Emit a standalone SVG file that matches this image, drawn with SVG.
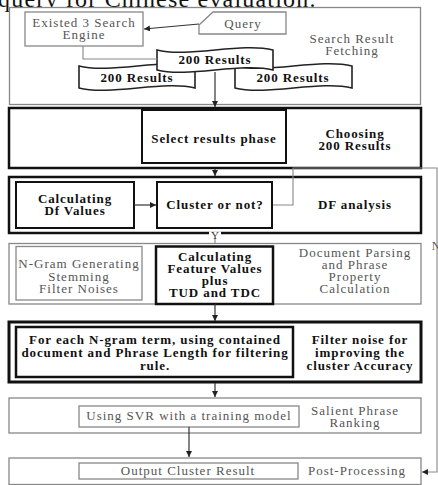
<svg xmlns="http://www.w3.org/2000/svg" width="438" height="485" viewBox="0 0 438 485">
<defs>
<marker id="ah" viewBox="0 0 10 10" refX="10" refY="5" markerWidth="6" markerHeight="6" markerUnits="userSpaceOnUse" orient="auto">
<path d="M0,0 L10,5 L0,10 Z" fill="#222"/>
</marker>
<style>
text{font-family:"Liberation Serif","Times New Roman",serif;text-anchor:middle}
.t{font-size:13px;fill:#555;letter-spacing:1px}
.b{font-size:13px;font-weight:bold;fill:#111;letter-spacing:0.9px}
.thin{fill:#fff;stroke:#888;stroke-width:1.3}
.thick{fill:#fff;stroke:#111;stroke-width:2.5}
.tape{fill:#fff;stroke:#222;stroke-width:1.6}
.c{fill:none;stroke:#333;stroke-width:1.2}
.cg{fill:none;stroke:#888;stroke-width:1.1}
</style>
</defs>
<rect width="438" height="485" fill="#fff"/>
<text x="-2" y="7" style="font-size:24px;fill:#111;text-anchor:start;letter-spacing:1.2px">query for Chinese evaluation.</text>

<g id="stage1">
<rect class="thin" x="9.5" y="7.5" width="411" height="97"/>
<text class="t" x="352" y="43">Search Result</text>
<text class="t" x="352" y="55">Fetching</text>
</g>
<g id="engine">
<rect class="thin" x="25" y="12" width="118" height="34"/>
<text class="t" x="84" y="27">Existed 3 Search</text>
<text class="t" x="84" y="39">Engine</text>
</g>
<g id="query">
<polygon class="thin" points="213,12 286,12 286,34 199,34 199,25"/>
<text class="t" x="243" y="28">Query</text>
</g>
<g id="results-left">
<path class="tape" d="M79,66 C110,74 165,58 195,66 L195,88 C165,80 110,96 79,88 Z"/>
<text class="b" x="137" y="82">200 Results</text>
</g>
<g id="results-right">
<path class="tape" d="M235,66 C266,74 321,58 352,66 L352,88 C321,80 266,96 235,88 Z"/>
<text class="b" x="293" y="82">200 Results</text>
</g>
<g id="results-top">
<path class="tape" d="M157,50 C188,58 242,42 273,50 L273,70 C242,62 188,78 157,70 Z"/>
<text class="b" x="215" y="64">200 Results</text>
</g>

<g id="stage2">
<rect class="thick" x="9" y="108" width="412" height="60"/>
<text class="b" x="355" y="138">Choosing</text>
<text class="b" x="355" y="150">200 Results</text>
</g>
<g id="select">
<rect class="thick" style="stroke-width:2" x="142" y="110" width="144" height="53"/>
<text class="b" x="214" y="143">Select results phase</text>
</g>

<g id="stage3">
<rect class="thick" x="9" y="177" width="412" height="56"/>
<text class="b" x="355" y="209">DF analysis</text>
</g>
<g id="df">
<rect class="thick" style="stroke-width:2" x="16" y="182" width="118" height="46"/>
<text class="b" x="75" y="203">Calculating</text>
<text class="b" x="75" y="215">Df Values</text>
</g>

<g id="stage4">
<rect class="thin" x="9" y="243.5" width="412" height="60.5"/>
<text class="t" x="355" y="257">Document Parsing</text>
<text class="t" x="355" y="269">and Phrase</text>
<text class="t" x="355" y="281">Property</text>
<text class="t" x="355" y="293">Calculation</text>
</g>
<g id="ngram">
<rect class="thin" x="16" y="246.5" width="126" height="53.5"/>
<text class="t" x="79" y="268">N-Gram Generating</text>
<text class="t" x="79" y="281">Stemming</text>
<text class="t" x="79" y="293">Filter Noises</text>
</g>
<g id="feature">
<rect class="thick" x="156" y="246.5" width="117" height="57.5"/>
<text class="b" x="215" y="261">Calculating</text>
<text class="b" x="215" y="273">Feature Values</text>
<text class="b" x="215" y="285">plus</text>
<text class="b" x="215" y="297">TUD and TDC</text>
</g>

<g id="stage5">
<rect class="thick" style="stroke-width:3" x="9" y="322" width="412" height="60"/>
<text class="b" x="360" y="344">Filter noise for</text>
<text class="b" x="360" y="357">improving the</text>
<text class="b" x="360" y="370">cluster Accuracy</text>
</g>
<g id="filter">
<rect class="thick" x="16" y="327" width="277" height="50"/>
<text class="b" x="155" y="344">For each N-gram term, using contained</text>
<text class="b" x="155" y="357">document and Phrase Length for filtering</text>
<text class="b" x="155" y="370">rule.</text>
</g>

<g id="stage6">
<rect class="thin" x="9" y="398" width="412" height="35"/>
<text class="t" x="355" y="415">Salient Phrase</text>
<text class="t" x="355" y="427">Ranking</text>
</g>
<g id="svr">
<rect class="thin" x="79" y="406" width="220" height="21"/>
<text class="t" x="189" y="420">Using SVR with a training model</text>
</g>

<g id="stage7">
<rect class="thin" x="9" y="458" width="412" height="26.5"/>
<text class="t" x="357" y="475">Post-Processing</text>
</g>
<g id="output">
<rect class="thin" x="79" y="463" width="219" height="16"/>
<text class="t" x="188" y="475">Output Cluster Result</text>
</g>

<g id="connectors">
<line class="c" x1="199" y1="24" x2="144" y2="29" marker-end="url(#ah)"/>
<path class="cg" d="M83,46 V59 H157"/>
<line class="c" x1="215" y1="72" x2="215" y2="107" marker-end="url(#ah)"/>
<line class="c" x1="215" y1="169" x2="215" y2="176" marker-end="url(#ah)"/>
<line class="c" x1="134" y1="205" x2="156" y2="205" marker-end="url(#ah)"/>
<path class="cg" d="M272,205 H293 V168 H437 V472 H422" marker-end="url(#ah)"/>
<line class="cg" x1="215" y1="234" x2="215" y2="243"/>
<rect x="209" y="231.5" width="12" height="7" fill="#fff"/>
<text x="215" y="239" style="font-size:11px;fill:#333">Y</text>
<text x="436" y="250" style="font-size:12px;fill:#555">N</text>
<line class="c" x1="215" y1="304" x2="215" y2="321" marker-end="url(#ah)"/>
<line class="c" x1="215" y1="383" x2="215" y2="397" marker-end="url(#ah)"/>
<line class="c" x1="189" y1="427" x2="189" y2="457" marker-end="url(#ah)"/>
</g>
<g id="cluster">
<rect class="thick" style="stroke-width:2" x="157" y="182" width="115" height="46"/>
<text class="b" x="215" y="209">Cluster or not?</text>
</g>
</svg>
